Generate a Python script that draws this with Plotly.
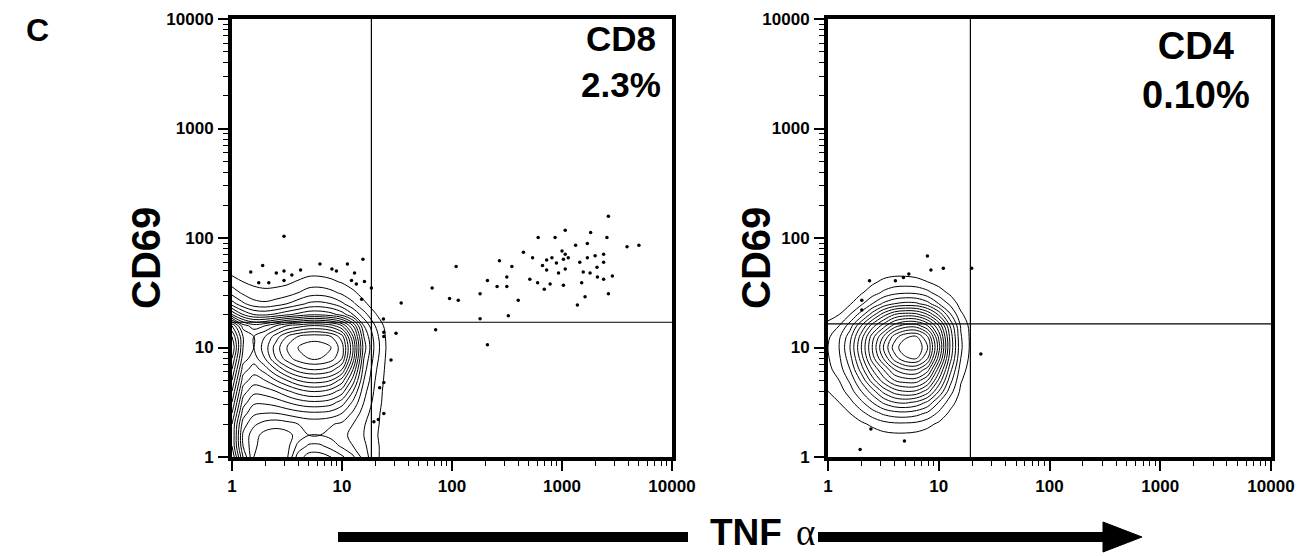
import plotly.graph_objects as go

W, H = 1298, 556

# ---- grid for density contours (TNF-alpha on x, CD69 on y) ----
grid_tnf = [1.0, 1.26, 1.58, 2.0, 2.51, 3.16, 3.98, 5.01, 6.31, 7.94, 10.0, 12.6, 15.8, 20.0, 25.1, 31.6]
grid_cd69 = [1.0, 1.26, 1.58, 2.0, 2.51, 3.16, 3.98, 5.01, 6.31, 7.94, 10.0, 12.6, 15.8, 20.0, 25.1, 31.6, 39.8, 50.1, 63.1]

# CD8 relative density (rows = CD69 grid, bottom to top)
cd8_density = [
    [11, 6, 3, 2.6, 2.4, 2.8, 5.5, 6.5, 6.5, 6, 5.2, 4.2, 2.5, 1.3, 0.5, 0],
    [10, 5, 3.2, 2.5, 2.3, 2.6, 4.3, 5.2, 5.2, 4.6, 3.8, 3, 2.2, 1.3, 0.5, 0],
    [10, 4.8, 3.4, 2.6, 2.4, 2.6, 3.4, 4, 4, 3.7, 3.3, 2.7, 2, 1.2, 0.4, 0],
    [10, 5.5, 4.2, 3.6, 3.4, 3.6, 4, 4.3, 4.3, 4.1, 3.8, 3, 2.1, 1.3, 0.5, 0],
    [11, 6.5, 5.2, 5, 5, 5.3, 5.6, 5.8, 5.8, 5.6, 5, 3.8, 2.5, 1.4, 0.5, 0],
    [12, 7.5, 6.2, 6.2, 6.5, 7, 7.5, 7.8, 7.8, 7.5, 6.5, 4.8, 3, 1.6, 0.6, 0],
    [13, 8.5, 7.3, 7.5, 8, 8.8, 9.5, 10, 10, 9.5, 8.5, 6, 3.4, 1.8, 0.6, 0],
    [14, 9.5, 8.5, 9, 10, 11, 12, 12.5, 12.5, 12, 10.5, 7.5, 4, 2, 0.7, 0],
    [15, 10.5, 9.5, 10.5, 12, 13.5, 14.5, 15, 15, 14.5, 13, 9, 4.5, 2.2, 0.8, 0],
    [16, 11.5, 10.5, 12, 14, 15.5, 16.5, 17, 17, 16.5, 15, 10.5, 5, 2.5, 0.9, 0],
    [17, 12, 11, 12.5, 14.5, 16, 17, 17.5, 17.5, 17, 15.5, 11, 5.5, 2.7, 1, 0],
    [16, 12, 11, 12, 13.5, 15, 16, 16.5, 16.5, 16, 14.5, 10, 5, 2.5, 0.9, 0],
    [14, 10.5, 9.5, 10, 11, 12, 12.5, 13, 13, 12.5, 11, 8, 4, 2, 0.7, 0],
    [8, 6, 5, 4.8, 5.2, 5.8, 6.3, 6.8, 6.8, 6.4, 5.6, 4, 2.4, 1.1, 0.3, 0],
    [4.5, 3.2, 2.4, 2.2, 2.5, 3, 3.6, 4.2, 4.3, 4, 3.2, 2.2, 1.2, 0.5, 0.1, 0],
    [2.6, 1.8, 1.3, 1.2, 1.3, 1.5, 2.0, 2.5, 2.6, 2.3, 1.8, 1.2, 0.6, 0.2, 0, 0],
    [1.5, 1.0, 0.8, 0.7, 0.7, 0.8, 1.1, 1.4, 1.4, 1.2, 0.9, 0.5, 0.2, 0, 0, 0],
    [0.6, 0.3, 0.2, 0.1, 0.1, 0.2, 0.4, 0.6, 0.6, 0.5, 0.3, 0.1, 0, 0, 0, 0],
    [0, 0, 0, 0, 0, 0, 0, 0, 0, 0, 0, 0, 0, 0, 0, 0],
]

# CD4 relative density
cd4_density = [
    [0, 0, 0, 0, 0, 0, 0, 0, 0, 0, 0, 0, 0, 0, 0, 0],
    [0, 0, 0, 0, 0.1, 0.2, 0.3, 0.3, 0.2, 0.1, 0, 0, 0, 0, 0, 0],
    [0, 0.1, 0.2, 0.3, 0.5, 0.7, 0.8, 0.8, 0.7, 0.5, 0.3, 0.1, 0, 0, 0, 0],
    [0.1, 0.3, 0.5, 0.8, 1.2, 1.6, 1.8, 1.8, 1.7, 1.3, 0.8, 0.4, 0.1, 0, 0, 0],
    [0.3, 0.6, 1, 1.7, 2.5, 3.2, 3.6, 3.7, 3.4, 2.8, 1.8, 0.8, 0.3, 0, 0, 0],
    [0.6, 1, 1.7, 2.8, 4, 5.2, 6, 6.2, 5.8, 4.8, 3, 1.5, 0.5, 0.1, 0, 0],
    [1, 1.5, 2.5, 4, 5.5, 7.3, 8.5, 9, 8.8, 7.5, 5, 2.5, 0.8, 0.2, 0, 0],
    [1.3, 2, 3.2, 5.2, 7.5, 9.5, 11, 11.5, 11.5, 10, 6.8, 3.5, 1.1, 0.3, 0, 0],
    [1.7, 2.5, 4, 6.5, 9, 11, 13, 14, 14, 12.5, 8.5, 4.5, 1.5, 0.4, 0, 0],
    [1.9, 2.8, 4.6, 7.5, 10.5, 13, 15.5, 16.8, 17, 15, 10.5, 5.5, 2, 0.5, 0, 0],
    [2, 3, 5, 8, 11, 14, 16.5, 17.8, 18, 16, 11.5, 6, 2.2, 0.6, 0, 0],
    [1.8, 2.8, 4.6, 7.5, 10.5, 13, 15.5, 16.8, 17, 15, 10.8, 5.8, 2.1, 0.6, 0, 0],
    [1.3, 2, 3.5, 6, 8.5, 10.5, 12.5, 13.5, 13.5, 12, 9, 5, 1.9, 0.5, 0, 0],
    [0.6, 1, 2, 3.5, 5.5, 7.5, 9, 9.5, 9.3, 8, 5.8, 3.2, 1.2, 0.3, 0, 0],
    [0.1, 0.4, 0.9, 1.8, 3, 4.2, 5, 5.3, 5.2, 4.4, 3, 1.8, 0.6, 0.1, 0, 0],
    [0, 0.1, 0.4, 0.9, 1.5, 2.2, 2.7, 2.9, 2.8, 2.3, 1.5, 0.8, 0.2, 0, 0, 0],
    [0, 0, 0.1, 0.4, 0.8, 1.2, 1.4, 1.4, 1.3, 1.0, 0.6, 0.2, 0, 0, 0, 0],
    [0, 0, 0, 0.1, 0.3, 0.5, 0.6, 0.6, 0.5, 0.3, 0.1, 0, 0, 0, 0, 0],
    [0, 0, 0, 0, 0, 0, 0, 0, 0, 0, 0, 0, 0, 0, 0, 0],
]

# ---- individual events outside the contours ----
cd8_tnf = [2640, 1070, 1820, 607, 865, 2560, 5000, 3900, 1700, 1330, 446, 1000, 1070, 1140, 1030,
           540, 725, 810, 890, 665, 725, 930, 1070, 1450, 1700, 2000, 2390, 2390, 2080, 1800,
           1560, 2100, 2390, 2870, 1510, 1030, 780, 690, 600, 510, 2640, 1620, 1380, 400, 325,
           315, 315, 257, 210, 350, 270, 180, 109, 114, 95, 66, 34.5, 180, 71, 210,
           31, 24, 24, 23.8, 27.9, 24, 22, 24, 19.5, 21.4,
           2.97, 1.9, 1.48, 2.53, 2.97, 3.5, 4.2, 6.3, 8.1, 8.9, 11.2, 15.5, 13, 1.75, 2.16,
           2.97, 12.2, 13.5, 16, 18.5, 15.1]
cd8_cd69 = [158, 118, 112, 101, 101, 101, 86, 83, 89, 86, 74, 76, 71, 66, 64,
            66, 63, 66, 59, 56, 51, 48, 52, 60, 66, 69, 71, 60, 54, 48,
            49, 44, 42, 45, 39, 37, 38, 34, 39, 42, 31, 29, 24.5, 27, 19.5,
            44, 36, 36, 41, 55, 62, 31, 55, 27, 28, 35, 25.5, 18.3, 14.5, 10.6,
            13.5, 13.8, 12.6, 18.2, 7.7, 4.8, 4.3, 2.5, 2.1, 2.2,
            104, 56, 49, 48, 50, 46, 51, 58, 52, 50, 58, 64, 48, 39, 39,
            41, 41, 38, 40, 35, 27.6]

cd4_tnf = [7.9, 11, 8.5, 2.37, 4.06, 4.8, 5.37, 2.02, 2.02, 19.8, 24, 2.44, 4.9, 1.95]
cd4_cd69 = [68.6, 53, 51, 40.6, 40.6, 43.6, 47, 27, 22, 53, 8.7, 1.8, 1.4, 1.17]

# quadrant gates
gate_tnf = [18.5, 19.3]
gate_cd69 = [17.0, 16.4]
axis_span = [1, 10000]

tick_vals = [1, 10, 100, 1000, 10000]
tick_text = ["1", "10", "100", "1000", "10000"]
minor_vals = [m * d for d in (1, 10, 100, 1000) for m in range(2, 10)]

panel_labels = ["CD8<br>2.3%", "CD4<br>0.10%"]

fig = go.Figure()

panels = [
    ("x", "y", cd8_density, cd8_tnf, cd8_cd69),
    ("x2", "y2", cd4_density, cd4_tnf, cd4_cd69),
]
for i, (xa, ya, dens, px, py) in enumerate(panels):
    fig.add_trace(go.Contour(
        x=grid_tnf, y=grid_cd69, z=dens, xaxis=xa, yaxis=ya,
        contours=dict(start=1, end=18, size=1, coloring="lines"),
        colorscale=[[0, "black"], [1, "black"]], showscale=False,
        line=dict(width=1, smoothing=1.0), hoverinfo="skip",
    ))
    fig.add_trace(go.Scatter(
        x=px, y=py, xaxis=xa, yaxis=ya, mode="markers",
        marker=dict(size=3.5, color="black"), showlegend=False, cliponaxis=True,
    ))
    fig.add_trace(go.Scatter(
        x=[gate_tnf[i], gate_tnf[i]], y=axis_span, xaxis=xa, yaxis=ya, mode="lines",
        line=dict(color="black", width=1.2), showlegend=False,
    ))
    fig.add_trace(go.Scatter(
        x=axis_span, y=[gate_cd69[i], gate_cd69[i]], xaxis=xa, yaxis=ya, mode="lines",
        line=dict(color="black", width=1.2), showlegend=False,
    ))

tickfont = dict(family="Liberation Sans, Arial, sans-serif", size=17, color="black", weight="bold")

def axis_style(domain, anchor):
    return dict(
        type="log", range=[0, 4], domain=domain, anchor=anchor, automargin=False,
        tickmode="array", tickvals=tick_vals, ticktext=tick_text,
        ticks="outside", ticklen=10, tickwidth=1.5, tickcolor="black",
        minor=dict(tickvals=minor_vals, ticks="outside", ticklen=5, tickwidth=1.2, tickcolor="black"),
        showline=True, linewidth=4, linecolor="black", mirror=True,
        showgrid=False, zeroline=False, tickfont=tickfont, ticklabelstandoff=1,
    )

ydom = [1 - 457 / H, 1 - 19 / H]
fig.update_layout(
    width=W, height=H, margin=dict(l=0, r=0, t=0, b=0, autoexpand=False),
    paper_bgcolor="white", plot_bgcolor="white", showlegend=False,
    xaxis=axis_style([232 / W, 672 / W], "y"),
    yaxis=axis_style(ydom, "x"),
    xaxis2=axis_style([828 / W, 1271 / W], "y2"),
    yaxis2=axis_style(ydom, "x2"),
)

bold = "Liberation Sans, Arial, sans-serif"
ann = []
ann.append(dict(text="<b>C</b>", x=37 / W, y=1 - 30 / H, font=dict(family=bold, size=32)))
for cx in (146, 756):
    ann.append(dict(text="<b>CD69</b>", x=cx / W, y=1 - 258 / H, textangle=-90,
                    font=dict(family=bold, size=40)))
ann.append(dict(text="<b>%s</b>" % panel_labels[0], x=621 / W, y=1 - 62 / H, font=dict(family=bold, size=35)))
ann.append(dict(text="<b>%s</b>" % panel_labels[1], x=1196 / W, y=1 - 70 / H, font=dict(family=bold, size=38)))
ann.append(dict(text="<b>TNF</b>", x=746 / W, y=1 - 532 / H, font=dict(family=bold, size=37)))
ann.append(dict(text="α", x=805 / W, y=1 - 532 / H, font=dict(family="Liberation Serif, serif", size=37)))
for a in ann:
    a.update(xref="paper", yref="paper", showarrow=False, xanchor="center", yanchor="middle",
             align="center", font=dict(color="black", **a["font"]))
fig.update_layout(annotations=ann)

ay = 1 - 537 / H
shapes = [
    dict(type="line", xref="paper", yref="paper", x0=338 / W, x1=688 / W, y0=ay, y1=ay,
         line=dict(color="black", width=10)),
    dict(type="line", xref="paper", yref="paper", x0=818 / W, x1=1108 / W, y0=ay, y1=ay,
         line=dict(color="black", width=10)),
    dict(type="path", xref="paper", yref="paper",
         path="M %f,%f L %f,%f L %f,%f Z" % (1103 / W, 1 - 522 / H, 1142 / W, ay, 1103 / W, 1 - 552 / H),
         fillcolor="black", line=dict(color="black", width=1)),
]
fig.update_layout(shapes=shapes)

fig.write_html("out.html")
